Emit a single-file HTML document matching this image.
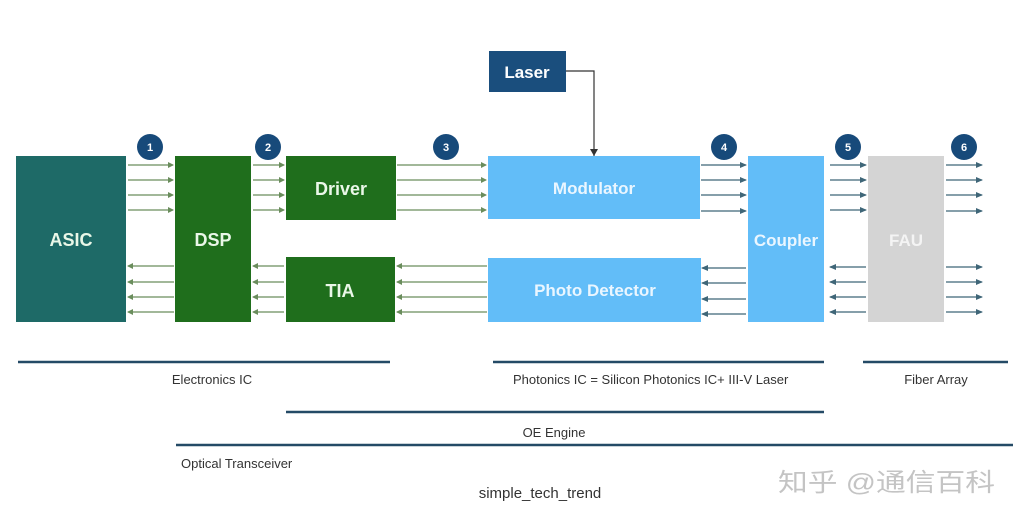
<!DOCTYPE html>
<html><head><meta charset="utf-8"><style>
html,body{margin:0;padding:0;background:#fff;}
svg{display:block;}
text{font-family:"Liberation Sans",Arial,sans-serif;}
</style></head><body>
<svg width="1020" height="520" viewBox="0 0 1020 520" xmlns="http://www.w3.org/2000/svg">
<defs>
<marker id="ag" markerWidth="6" markerHeight="6" refX="5" refY="3" orient="auto" markerUnits="userSpaceOnUse"><path d="M0,0 L6,3 L0,6 z" fill="#6a8d5c"/></marker>
<marker id="ab" markerWidth="7" markerHeight="6" refX="6" refY="3" orient="auto" markerUnits="userSpaceOnUse"><path d="M0,0 L7,3 L0,6 z" fill="#3f6678"/></marker>
<marker id="ak" markerWidth="7" markerHeight="8" refX="7" refY="4" orient="auto" markerUnits="userSpaceOnUse"><path d="M0,0 L7,4 L0,8 z" fill="#333"/></marker>
</defs>
<rect x="16" y="156" width="110" height="166" fill="#1e6a67"/>
<rect x="175" y="156" width="76" height="166" fill="#1f6e1c"/>
<rect x="286" y="156" width="110" height="64" fill="#1f6e1c"/>
<rect x="286" y="257" width="109" height="65" fill="#1f6e1c"/>
<rect x="488" y="156" width="212" height="63" fill="#62bdf8"/>
<rect x="488" y="258" width="213" height="64" fill="#62bdf8"/>
<rect x="748" y="156" width="76" height="166" fill="#62bdf8"/>
<rect x="868" y="156" width="76" height="166" fill="#d4d4d4"/>
<rect x="489" y="51" width="77" height="41" fill="#1a4e7d"/>
<g fill="#eaf7e8" font-weight="bold" font-size="18" text-anchor="middle">
<text x="71" y="246">ASIC</text>
<text x="213" y="246">DSP</text>
<text x="341" y="195">Driver</text>
<text x="340" y="297">TIA</text>
<text x="594" y="194" fill="#eaf6ff" font-size="17">Modulator</text>
<text x="595" y="296" fill="#eaf6ff" font-size="17">Photo Detector</text>
<text x="786" y="246" fill="#eaf6ff" font-size="17">Coupler</text>
<text x="906" y="246" fill="#f4f4f4" font-size="17">FAU</text>
<text x="527" y="78" fill="#fff" font-size="17">Laser</text>
</g>
<polyline points="566,71 594,71 594,156" fill="none" stroke="#333" stroke-width="1.2" marker-end="url(#ak)"/>
<g fill="#174a7a">
<circle cx="150" cy="147" r="13"/><circle cx="268" cy="147" r="13"/><circle cx="446" cy="147" r="13"/>
<circle cx="724" cy="147" r="13"/><circle cx="848" cy="147" r="13"/><circle cx="964" cy="147" r="13"/>
</g>
<g fill="#fff" font-size="11" font-weight="bold" text-anchor="middle">
<text x="150" y="151">1</text><text x="268" y="151">2</text><text x="446" y="151">3</text>
<text x="724" y="151">4</text><text x="848" y="151">5</text><text x="964" y="151">6</text>
</g>
<g stroke="#6a8d5c" stroke-width="1.3" marker-end="url(#ag)">
<line x1="128" y1="165" x2="173" y2="165"/><line x1="128" y1="180" x2="173" y2="180"/><line x1="128" y1="195" x2="173" y2="195"/><line x1="128" y1="210" x2="173" y2="210"/>
<line x1="253" y1="165" x2="284" y2="165"/><line x1="253" y1="180" x2="284" y2="180"/><line x1="253" y1="195" x2="284" y2="195"/><line x1="253" y1="210" x2="284" y2="210"/>
<line x1="397" y1="165" x2="486" y2="165"/><line x1="397" y1="180" x2="486" y2="180"/><line x1="397" y1="195" x2="486" y2="195"/><line x1="397" y1="210" x2="486" y2="210"/>
<line x1="174" y1="266" x2="128" y2="266"/><line x1="174" y1="282" x2="128" y2="282"/><line x1="174" y1="297" x2="128" y2="297"/><line x1="174" y1="312" x2="128" y2="312"/>
<line x1="284" y1="266" x2="253" y2="266"/><line x1="284" y1="282" x2="253" y2="282"/><line x1="284" y1="297" x2="253" y2="297"/><line x1="284" y1="312" x2="253" y2="312"/>
<line x1="487" y1="266" x2="397" y2="266"/><line x1="487" y1="282" x2="397" y2="282"/><line x1="487" y1="297" x2="397" y2="297"/><line x1="487" y1="312" x2="397" y2="312"/>
</g>
<g stroke="#3f6678" stroke-width="1.3" marker-end="url(#ab)">
<line x1="701" y1="165" x2="746" y2="165"/><line x1="701" y1="180" x2="746" y2="180"/><line x1="701" y1="195" x2="746" y2="195"/><line x1="701" y1="211" x2="746" y2="211"/>
<line x1="830" y1="165" x2="866" y2="165"/><line x1="830" y1="180" x2="866" y2="180"/><line x1="830" y1="195" x2="866" y2="195"/><line x1="830" y1="210" x2="866" y2="210"/>
<line x1="946" y1="165" x2="982" y2="165"/><line x1="946" y1="180" x2="982" y2="180"/><line x1="946" y1="195" x2="982" y2="195"/><line x1="946" y1="211" x2="982" y2="211"/>
<line x1="746" y1="268" x2="702" y2="268"/><line x1="746" y1="283" x2="702" y2="283"/><line x1="746" y1="299" x2="702" y2="299"/><line x1="746" y1="314" x2="702" y2="314"/>
<line x1="866" y1="267" x2="830" y2="267"/><line x1="866" y1="282" x2="830" y2="282"/><line x1="866" y1="297" x2="830" y2="297"/><line x1="866" y1="312" x2="830" y2="312"/>
<line x1="946" y1="267" x2="982" y2="267"/><line x1="946" y1="282" x2="982" y2="282"/><line x1="946" y1="297" x2="982" y2="297"/><line x1="946" y1="312" x2="982" y2="312"/>
</g>
<g stroke="#244a66" stroke-width="2.5">
<line x1="18" y1="362" x2="390" y2="362"/>
<line x1="493" y1="362" x2="824" y2="362"/>
<line x1="863" y1="362" x2="1008" y2="362"/>
<line x1="286" y1="412" x2="824" y2="412"/>
<line x1="176" y1="445" x2="1013" y2="445"/>
</g>
<g fill="#333" font-size="13">
<text x="212" y="384" text-anchor="middle">Electronics IC</text>
<text x="513" y="384">Photonics IC = Silicon Photonics IC+ III-V Laser</text>
<text x="936" y="384" text-anchor="middle">Fiber Array</text>
<text x="554" y="437" text-anchor="middle">OE Engine</text>
<text x="181" y="468">Optical Transceiver</text>
<text x="540" y="498" text-anchor="middle" font-size="15">simple_tech_trend</text>
</g>
<text x="778" y="491" font-size="25" textLength="217" lengthAdjust="spacingAndGlyphs" fill="#c4c4c4" style="font-family:'Liberation Sans','Noto Sans CJK SC',sans-serif">知乎 @通信百科</text>
</svg>
</body></html>
